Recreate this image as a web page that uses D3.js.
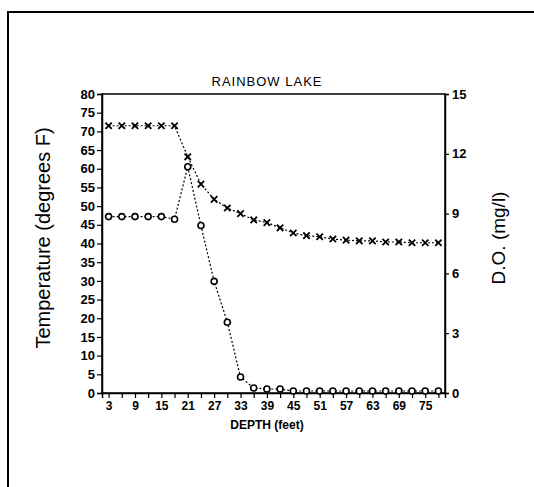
<!DOCTYPE html>
<html>
<head>
<meta charset="utf-8">
<script src="https://cdn.jsdelivr.net/npm/d3@7"></script>
<style>
  html, body { margin: 0; padding: 0; background: #fff; }
  svg { display: block; }
  text { font-family: "Liberation Sans", Arial, sans-serif; fill: #000; }
</style>
</head>
<body>
<svg id="chart" width="534" height="487"></svg>
<script>
// ---- data ----
const title = "RAINBOW LAKE";
const depths = [3,6,9,12,15,18,21,24,27,30,33,36,39,42,45,48,51,54,57,60,63,66,69,72,75,78];
const temperature = [71.5,71.5,71.5,71.5,71.5,71.5,63.2,55.9,51.8,49.5,48.0,46.3,45.6,44.2,42.8,42.1,41.8,41.2,40.9,40.7,40.7,40.4,40.4,40.2,40.2,40.2];
const dissolvedOxygen = [8.85,8.85,8.85,8.85,8.85,8.72,11.35,8.4,5.6,3.55,0.8,0.25,0.2,0.2,0.1,0.1,0.1,0.1,0.1,0.1,0.1,0.1,0.1,0.1,0.1,0.1];
const tempTicks = [0,5,10,15,20,25,30,35,40,45,50,55,60,65,70,75,80];
const doTicks = [0,3,6,9,12,15];
const depthLabels = [3,9,15,21,27,33,39,45,51,57,63,69,75];

// ---- layout ----
const svg = d3.select("#chart");
const L = 102, R = 445, T = 94, B = 393;

// outer frame
svg.append("path")
  .attr("d", "M8,490 V12 H536")
  .attr("fill", "none").attr("stroke", "#000").attr("stroke-width", 2);

const x = d3.scalePoint().domain(depths).range([L, R]).padding(0.5);
const yL = d3.scaleLinear().domain([0, 80]).range([B, T]);
const yR = d3.scaleLinear().domain([0, 15]).range([B, T]);

// plot box
svg.append("rect").attr("x", L).attr("y", T).attr("width", R - L).attr("height", B - T)
  .attr("fill", "none").attr("stroke", "#000").attr("stroke-width", 1.5);

// axes
const gL = svg.append("g").attr("transform", `translate(${L},0)`)
  .call(d3.axisLeft(yL).tickValues(tempTicks).tickSize(5).tickPadding(2));
const gR = svg.append("g").attr("transform", `translate(${R},0)`)
  .call(d3.axisRight(yR).tickValues(doTicks).tickSize(4).tickPadding(3));
const gX = svg.append("g").attr("transform", `translate(0,${B})`)
  .call(d3.axisBottom(x).tickValues(depths).tickSize(5).tickPadding(3)
    .tickFormat(d => depthLabels.includes(d) ? d : ""));

[gL, gR, gX].forEach(g => {
  g.select(".domain").attr("stroke", "#000").attr("stroke-width", 1.5);
  g.selectAll(".tick line").attr("stroke", "#000").attr("stroke-width", 1.2);
  g.selectAll(".tick text").attr("font-family", "Liberation Sans, Arial, sans-serif")
    .attr("font-weight", "bold").attr("fill", "#000");
});
gL.selectAll(".tick text").attr("font-size", 13);
gR.selectAll(".tick text").attr("font-size", 13);
gX.selectAll(".tick text").attr("font-size", 12);

// lines
const lineT = d3.line().x((d, i) => x(depths[i])).y(d => yL(d));
const lineD = d3.line().x((d, i) => x(depths[i])).y(d => yR(d));

svg.append("path").datum(temperature).attr("d", lineT)
  .attr("fill", "none").attr("stroke", "#000").attr("stroke-width", 1.2)
  .attr("stroke-dasharray", "2,2");
svg.append("path").datum(dissolvedOxygen).attr("d", lineD)
  .attr("fill", "none").attr("stroke", "#000").attr("stroke-width", 1.2)
  .attr("stroke-dasharray", "2,2");

// markers
const s = 3.2;
svg.append("g").selectAll("path").data(temperature).join("path")
  .attr("d", (d, i) => {
    const cx = x(depths[i]), cy = yL(d);
    return `M${cx-s},${cy-s}L${cx+s},${cy+s}M${cx-s},${cy+s}L${cx+s},${cy-s}`;
  })
  .attr("stroke", "#000").attr("stroke-width", 1.8).attr("fill", "none");

svg.append("g").selectAll("circle").data(dissolvedOxygen).join("circle")
  .attr("cx", (d, i) => x(depths[i])).attr("cy", d => yR(d)).attr("r", 3)
  .attr("fill", "#fff").attr("stroke", "#000").attr("stroke-width", 1.6);

// titles
svg.append("text").attr("x", 267).attr("y", 86).attr("text-anchor", "middle")
  .attr("font-size", 13).attr("letter-spacing", 1).text(title);

svg.append("text").attr("x", 267).attr("y", 429).attr("text-anchor", "middle")
  .attr("font-size", 12).attr("font-weight", "bold").text("DEPTH (feet)");

svg.append("text").attr("transform", "translate(50,238) rotate(-90)")
  .attr("text-anchor", "middle").attr("font-size", 20).text("Temperature (degrees F)");

svg.append("text").attr("transform", "translate(505,238) rotate(-90)")
  .attr("text-anchor", "middle").attr("font-size", 19).text("D.O. (mg/l)");
</script>
</body>
</html>
